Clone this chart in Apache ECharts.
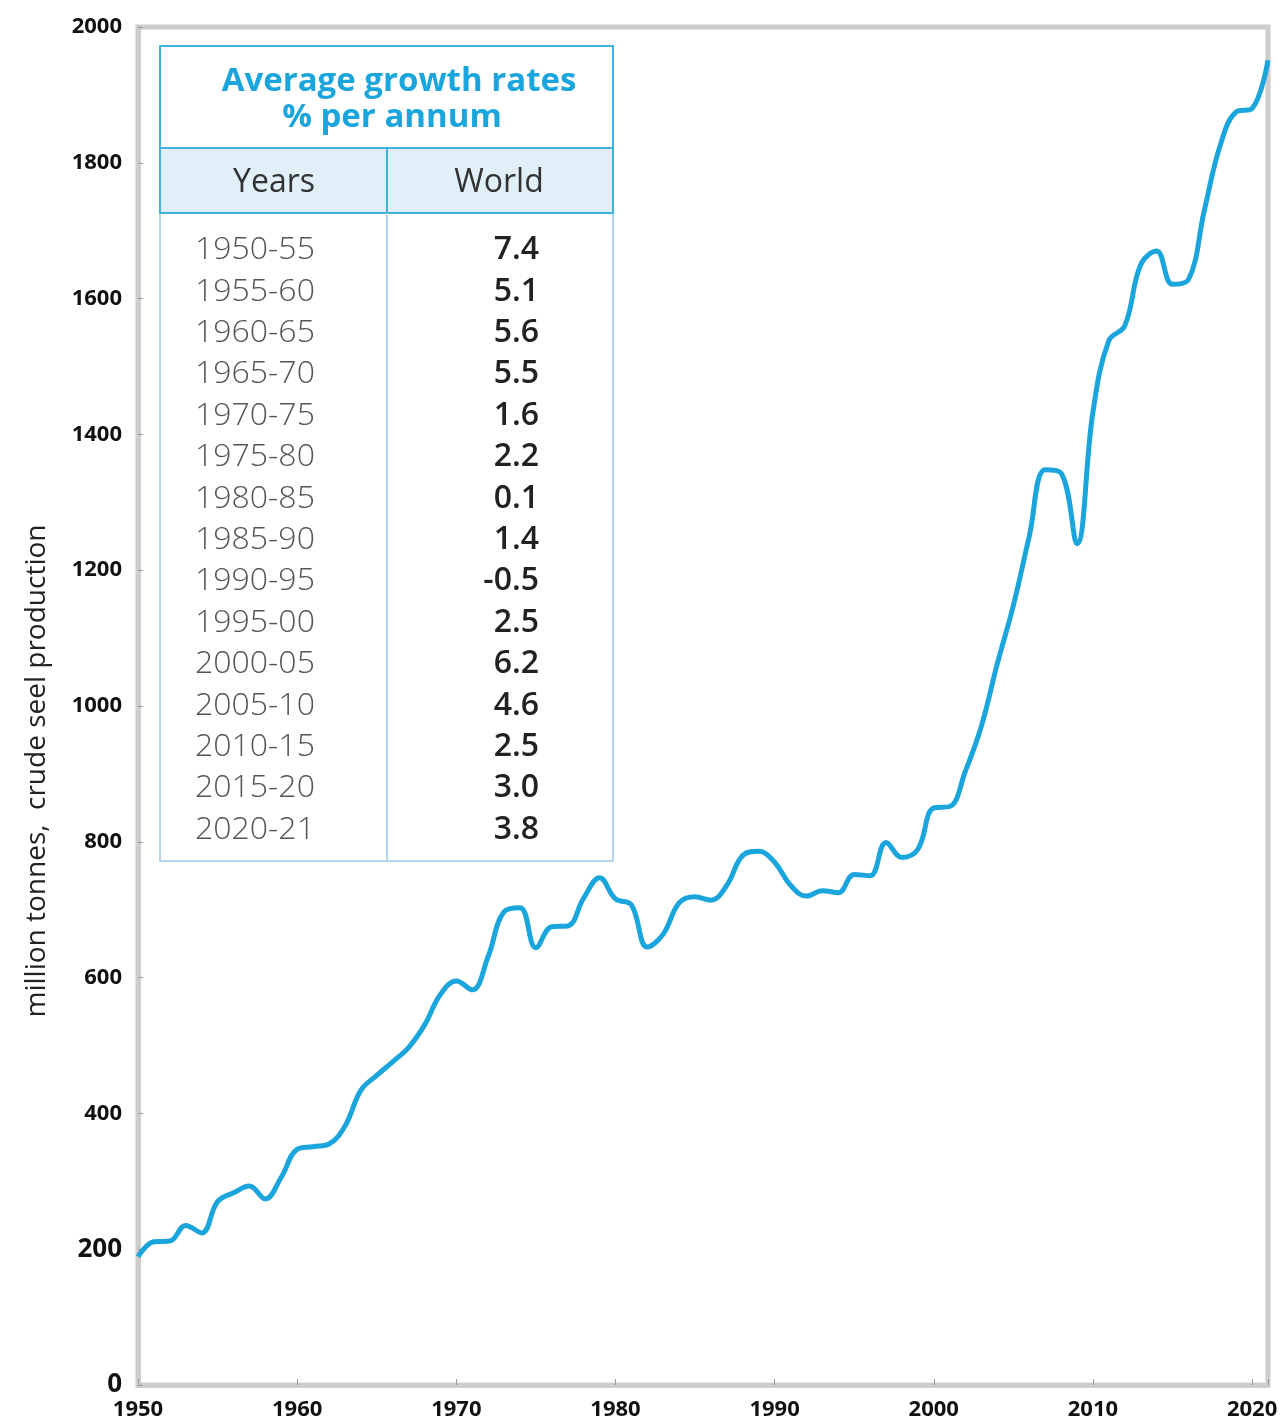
<!DOCTYPE html>
<html lang="en">
<head>
  <meta charset="UTF-8">
  <title>World crude steel production</title>
  <style>
    html, body { margin: 0; padding: 0; background: #fff; }
    #main { width: 1281px; height: 1421px; }
  </style>
</head>
<body>
  <div id="main"></div>
  <script src="https://cdn.jsdelivr.net/npm/echarts@6/dist/echarts.min.js"></script>
  <script>
    // yearly world crude steel output, million tonnes
    var years = [];
    for (var y = 1950; y <= 2021; y++) years.push(y);
    var production = [
      189, 211, 212, 235, 224, 270, 283, 293, 274, 306,
      347, 351, 355, 381, 434, 456, 476, 497, 530, 575,
      595, 582, 631, 697, 703, 644, 675, 676, 717, 747,
      716, 707, 645, 664, 710, 719, 714, 736, 780, 786,
      770, 736, 720, 728, 725, 752, 750, 799, 777, 789,
      850, 852, 905, 971, 1063, 1148, 1250, 1348, 1343, 1239,
      1433, 1538, 1560, 1650, 1670, 1621, 1628, 1730, 1826, 1875,
      1880, 1951
    ];

    // growth rate table
    var periods = ['1950-55', '1955-60', '1960-65', '1965-70', '1970-75', '1975-80', '1980-85',
      '1985-90', '1990-95', '1995-00', '2000-05', '2005-10', '2010-15', '2015-20', '2020-21'];
    var rates = ['7.4', '5.1', '5.6', '5.5', '1.6', '2.2', '0.1', '1.4', '-0.5', '2.5',
      '6.2', '4.6', '2.5', '3.0', '3.8'];

    var chart = echarts.init(document.getElementById('main'));
    var font = '"Open Sans", "Noto Sans", sans-serif';
    var blue = '#1ba5dd';

    var data = years.map(function (yr, i) { return [yr, production[i]]; });

    // table graphics
    var tx = 160, tw = 453, colX = 387, ty = 46;
    var g = [
      { type: 'rect', shape: { x: tx, y: ty, width: tw, height: 815 },
        style: { fill: '#fff', stroke: '#b3d6ea', lineWidth: 2 }, z: 10 },
      { type: 'rect', shape: { x: tx, y: 148, width: tw, height: 65 },
        style: { fill: '#e1eff9', stroke: '#3fb2df', lineWidth: 2 }, z: 11 },
      { type: 'rect', shape: { x: tx, y: ty, width: tw, height: 102 },
        style: { fill: '#fff', stroke: '#3fb2df', lineWidth: 2 }, z: 11 },
      { type: 'line', shape: { x1: colX, y1: 148, x2: colX, y2: 213 },
        style: { stroke: '#3fb2df', lineWidth: 2 }, z: 12 },
      { type: 'line', shape: { x1: colX, y1: 213, x2: colX, y2: 861 },
        style: { stroke: '#b3d6ea', lineWidth: 2 }, z: 12 },
      { type: 'text', z: 13, style: { text: 'Average growth rates', x: 399, y: 82,
        textAlign: 'center', textVerticalAlign: 'middle', fill: blue,
        fontSize: 33, fontWeight: 700, fontFamily: font } },
      { type: 'text', z: 13, style: { text: '% per annum', x: 392, y: 118,
        textAlign: 'center', textVerticalAlign: 'middle', fill: blue,
        fontSize: 33, fontWeight: 700, fontFamily: font } },
      { type: 'text', z: 13, style: { text: 'Years', x: 274, y: 183,
        textAlign: 'center', textVerticalAlign: 'middle', fill: '#333',
        fontSize: 32, fontWeight: 400, fontFamily: font } },
      { type: 'text', z: 13, style: { text: 'World', x: 499, y: 183,
        textAlign: 'center', textVerticalAlign: 'middle', fill: '#333',
        fontSize: 32, fontWeight: 400, fontFamily: font } }
    ];
    periods.forEach(function (p, i) {
      var ry = 250 + i * 41.4;
      g.push({ type: 'text', z: 13, style: { text: p, x: 195, y: ry,
        textAlign: 'left', textVerticalAlign: 'middle', fill: '#555',
        fontSize: 32, fontWeight: 300, fontFamily: font } });
      g.push({ type: 'text', z: 13, style: { text: rates[i], x: 539, y: ry,
        textAlign: 'right', textVerticalAlign: 'middle', fill: '#222',
        fontSize: 32, fontWeight: 600, fontFamily: font } });
    });

    var option = {
      animation: false,
      grid: {
        left: 138, right: 13, top: 27, bottom: 36,
        show: true, borderColor: '#cdcdcd', borderWidth: 5
      },
      xAxis: {
        type: 'value', min: 1950, max: 2021, interval: 10,
        splitLine: { show: false },
        axisLine: { show: true, lineStyle: { color: '#cdcdcd', width: 5 } },
        axisTick: { show: true, inside: true, length: 6, lineStyle: { color: '#999', width: 1 } },
        axisLabel: {
          margin: 14, color: '#111', fontSize: 22, fontWeight: 700, fontFamily: font,
          formatter: function (v) { return v === 2021 ? '' : String(v); }
        }
      },
      yAxis: {
        type: 'value', min: 0, max: 2000, interval: 200,
        name: 'million tonnes,  crude seel production',
        nameLocation: 'middle', nameGap: 87,
        nameTextStyle: { color: '#222', fontSize: 28, fontFamily: font, padding: [0, 130, 0, 0] },
        splitLine: { show: false },
        axisLine: { show: true, lineStyle: { color: '#cdcdcd', width: 5 } },
        axisTick: { show: true, inside: true, length: 5, lineStyle: { color: '#999', width: 1 } },
        axisLabel: {
          margin: 16, color: '#111', fontSize: 22, fontWeight: 700, fontFamily: font,
          formatter: function (v) {
            return (v === 0 || v === 200) ? '{big|' + v + '}' : String(v);
          },
          rich: { big: { fontSize: 26, fontWeight: 700, color: '#111', fontFamily: font } }
        }
      },
      series: [{
        type: 'line',
        data: data,
        smooth: 0.4,
        symbol: 'none',
        lineStyle: { color: blue, width: 5 },
        z: 5
      }],
      graphic: g
    };

    chart.setOption(option);
  </script>
</body>
</html>
